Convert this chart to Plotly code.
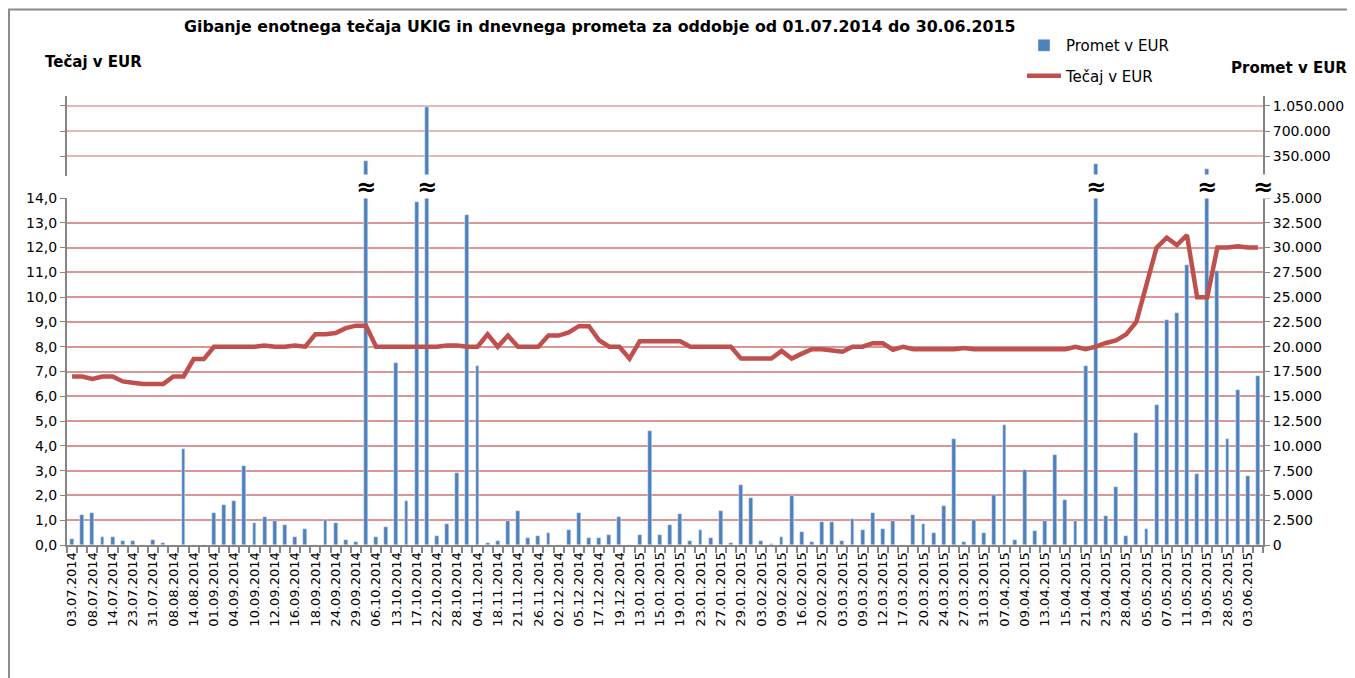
import plotly.graph_objects as go

# ---- data ----
date_labels = [
    "03.07.2014", "08.07.2014", "14.07.2014", "23.07.2014", "31.07.2014", "08.08.2014",
    "14.08.2014", "01.09.2014", "04.09.2014", "10.09.2014", "12.09.2014", "16.09.2014",
    "18.09.2014", "24.09.2014", "29.09.2014", "06.10.2014", "13.10.2014", "17.10.2014",
    "22.10.2014", "28.10.2014", "04.11.2014", "18.11.2014", "21.11.2014", "26.11.2014",
    "02.12.2014", "05.12.2014", "17.12.2014", "19.12.2014", "13.01.2015", "15.01.2015",
    "19.01.2015", "23.01.2015", "27.01.2015", "29.01.2015", "03.02.2015", "09.02.2015",
    "16.02.2015", "20.02.2015", "03.03.2015", "09.03.2015", "12.03.2015", "17.03.2015",
    "20.03.2015", "24.03.2015", "27.03.2015", "31.03.2015", "07.04.2015", "09.04.2015",
    "13.04.2015", "15.04.2015", "21.04.2015", "23.04.2015", "28.04.2015", "05.05.2015",
    "07.05.2015", "11.05.2015", "19.05.2015", "28.05.2015", "03.06.2015",
]

promet = [
    650, 3000, 3250, 800, 800, 370, 370, 0, 470, 230,
    0, 9640, 0, 0, 3260, 4070, 4400, 7960, 2220, 2790,
    2450, 1980, 800, 1610, 0, 2550, 2220, 470, 300, 284000,
    800, 1780, 18380, 4400, 34580, 1030000, 910, 2150, 7250, 33330,
    18050, 200, 370, 2450, 3390, 710, 940, 1210, 0, 1510,
    3260, 710, 710, 970, 2790, 0, 1040, 11460, 970, 2010,
    3160, 370, 1510, 710, 3390, 200, 6050, 4740, 370, 150,
    810, 4970, 1280, 270, 2350, 2350, 370, 2590, 1510, 3260,
    1600, 2460, 0, 3030, 2120, 1180, 3940, 10680, 270, 2560,
    1180, 5020, 12060, 470, 7550, 1380, 2460, 9060, 4550, 2460,
    18060, 242000, 2900, 5830, 910, 11250, 1620, 14120, 22710, 23380,
    28270, 7180, 172000, 27600, 10680, 15670, 6980, 17020,
]

tecaj = [
    6.8, 6.8, 6.7, 6.8, 6.8, 6.6, 6.55, 6.5, 6.5, 6.5,
    6.8, 6.8, 7.5, 7.5, 8.0, 8.0, 8.0, 8.0, 8.0, 8.05,
    8.0, 8.0, 8.05, 8.0, 8.5, 8.5, 8.55, 8.75, 8.85, 8.85,
    8.0, 8.0, 8.0, 8.0, 8.0, 8.0, 8.0, 8.05, 8.05, 8.0,
    8.0, 8.5, 8.0, 8.45, 8.0, 8.0, 8.0, 8.45, 8.45, 8.58,
    8.83, 8.83, 8.26, 8.0, 8.0, 7.52, 8.22, 8.22, 8.22, 8.22,
    8.22, 8.0, 8.0, 8.0, 8.0, 8.0, 7.52, 7.52, 7.52, 7.52,
    7.83, 7.52, 7.72, 7.9, 7.9, 7.85, 7.8, 8.0, 8.0, 8.14,
    8.14, 7.88, 8.0, 7.9, 7.9, 7.9, 7.9, 7.9, 7.95, 7.9,
    7.9, 7.9, 7.9, 7.9, 7.9, 7.9, 7.9, 7.9, 7.9, 8.0,
    7.9, 8.0, 8.15, 8.25, 8.5, 9.0, 10.55, 12.0, 12.4, 12.1,
    12.5, 10.0, 10.0, 12.0, 12.0, 12.05, 12.0, 12.0,
]

break_positions = [29, 35, 101, 112]

# ---- figure ----
n = len(promet)
xs = list(range(n))
FONT = "DejaVu Sans"
BLUE = "#4F81BD"
RED = "#C0504D"
AXIS = "#868686"

fig = go.Figure()

fig.add_trace(go.Bar(
    x=xs, y=promet, name="Promet v EUR", marker_color=BLUE, width=0.38,
    yaxis="y", legendgroup="a", showlegend=True,
))
fig.add_trace(go.Bar(
    x=xs, y=promet, name="Promet v EUR", marker_color=BLUE, width=0.38,
    yaxis="y3", legendgroup="a", showlegend=False,
))
fig.add_trace(go.Scatter(
    x=xs, y=tecaj, name="Tečaj v EUR", mode="lines",
    line=dict(color=RED, width=4.5), yaxis="y2", legendgroup="b",
))

OFF = 8  # page body margin
FW, FH = 1355, 678
L, R, T, B = 67 - OFF, 1263 - OFF, 96 - OFF, 545 - OFF
W, H = R - L, B - T


def px(xs_screen):
    return (xs_screen - OFF - L) / W


def py(ys_screen):
    return (B - (ys_screen - OFF)) / H


annotations = [
    dict(text="<b>Gibanje enotnega tečaja UKIG in dnevnega prometa za oddobje od 01.07.2014 do 30.06.2015</b>",
         x=px(600), y=py(26), xref="paper", yref="paper", showarrow=False,
         font=dict(family=FONT, size=15.8, color="black"), xanchor="center", yanchor="middle"),
    dict(text="<b>Tečaj v EUR</b>", x=px(43), y=py(62), xref="paper", yref="paper",
         showarrow=False, font=dict(family=FONT, size=15, color="black"),
         xanchor="left", yanchor="middle"),
    dict(text="<b>Promet v EUR</b>", x=px(1349), y=py(68), xref="paper", yref="paper",
         showarrow=False, font=dict(family=FONT, size=15, color="black"),
         xanchor="right", yanchor="middle"),
]
for bp in break_positions:
    annotations.append(dict(
        text="<b>≈</b>", x=bp, y=py(187), xref="x", yref="paper", showarrow=False,
        font=dict(family=FONT, size=24, color="black"), bgcolor="white",
        width=26, height=21, xanchor="center", yanchor="middle"))
annotations.append(dict(
    text="<b>≈</b>", x=1.0, y=py(187), xref="paper", yref="paper", showarrow=False,
    font=dict(family=FONT, size=24, color="black"), bgcolor="white",
    width=26, height=21, xanchor="center", yanchor="middle"))

fig.update_layout(
    width=FW, height=FH,
    margin=dict(l=L, r=FW - R, t=T, b=FH - B),
    paper_bgcolor="white", plot_bgcolor="white",
    separators=",.",
    font=dict(family=FONT, size=14, color="black"),
    bargap=0,
    xaxis=dict(
        range=[-0.5, n - 0.5], tickmode="array", tickvals=xs[::2], ticktext=date_labels,
        tickangle=-90, tickfont=dict(size=13), ticks="", showgrid=False,
        showline=True, linecolor=AXIS, linewidth=2, zeroline=False,
        minor=dict(tickmode="linear", tick0=-0.5, dtick=1, ticks="outside",
                   ticklen=6, tickwidth=2, tickcolor=AXIS, showgrid=False),
    ),
    yaxis=dict(
        domain=[0, py(198)], range=[0, 35000], side="right", dtick=2500,
        tickformat=",d", showgrid=True, gridcolor="#D99694", gridwidth=2,
        showline=True, linecolor=AXIS, linewidth=2, ticks="outside", ticklen=5,
        tickcolor=AXIS, zeroline=False, tickfont=dict(size=14),
    ),
    yaxis2=dict(
        overlaying="y", side="left", range=[0, 14], dtick=1, tickformat=".1f",
        showgrid=False, showline=True, linecolor=AXIS, linewidth=2,
        ticks="outside", ticklen=5, tickcolor=AXIS, zeroline=False,
        tickfont=dict(size=14),
    ),
    yaxis3=dict(
        domain=[py(176), 1], range=[75800, 1189000], side="right", anchor="x",
        tickvals=[350000, 700000, 1050000], tickformat=",d",
        showgrid=True, gridcolor="#E6B9B8", gridwidth=1.5,
        showline=True, linecolor=AXIS, linewidth=2, mirror="ticks",
        ticks="outside", ticklen=5, tickcolor=AXIS, zeroline=False,
        tickfont=dict(size=14),
    ),
    legend=dict(x=px(1022), y=py(29), xanchor="left", yanchor="top",
                font=dict(family=FONT, size=15), bgcolor="rgba(0,0,0,0)",
                traceorder="grouped", tracegroupgap=8, itemwidth=34),
    annotations=annotations,
    shapes=[dict(type="rect", xref="paper", yref="paper",
                 x0=px(9), x1=px(1351), y0=py(720), y1=py(9.5),
                 line=dict(color="#8C8C8C", width=2), layer="below")],
    showlegend=True,
)

fig.write_html("out.html")
